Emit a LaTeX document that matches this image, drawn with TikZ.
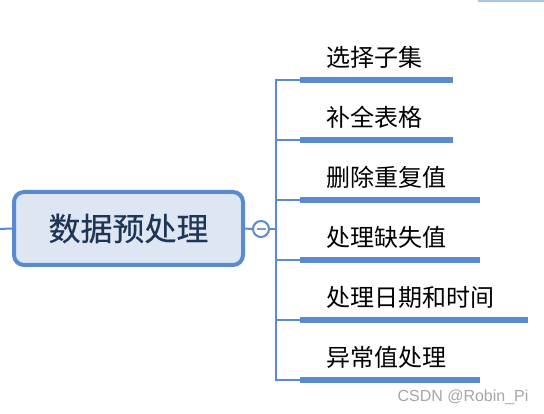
\documentclass[tikz,border=0pt]{standalone}
\usepackage{fontspec}
\newfontfamily\cjk{Noto Sans CJK SC}
\newfontfamily\cjkb[FakeBold=0.3]{Noto Sans CJK SC}
\newfontfamily\wmfont{Liberation Sans}
\definecolor{edgec}{RGB}{91,139,207}
\definecolor{fillc}{RGB}{221,230,242}
\definecolor{navyc}{RGB}{31,53,86}
\definecolor{minusc}{RGB}{138,154,181}
\definecolor{topc}{RGB}{169,196,235}
\begin{document}
\begin{tikzpicture}[x=1pt,y=-1pt,
  mainbox/.style={draw=edgec, line width=4pt, fill=fillc, rounded corners=10pt,
    minimum width=229pt, minimum height=73pt, inner sep=0pt,
    font=\cjkb\fontsize{32}{34}\selectfont, text=navyc},
  foldc/.style={circle, draw=edgec, line width=2pt, fill=white, minimum size=16pt, inner sep=0pt},
  conn/.style={draw=edgec, line width=2pt},
  bar/.style={draw=edgec, line width=6.5pt},
  lbl/.style={anchor=west, inner sep=0pt, font=\cjk\fontsize{24}{26}\selectfont, text=black},
  wm/.style={font=\wmfont\fontsize{16}{18}\selectfont, text=black!35, inner sep=0pt}]
\useasboundingbox (0,0) rectangle (544,414);
\fill[white] (0,0) rectangle (544,414);
% top-right remnant line
\coordinate (t1) at (478,0.8);
\coordinate (t2) at (544,0.8);
\draw[draw=topc, line width=1.6pt] (t1) -- (t2);
% main node
\node[mainbox] (m) at (128.5,228.5) {数据预处理};
\coordinate (lft) at (0,229);
\draw[conn] (lft) -- (m.west);
% fold circle
\node[foldc] (c) at (261,229) {};
\coordinate (mn1) at (256.5,229);
\coordinate (mn2) at (265.5,229);
\draw[draw=minusc, line width=1.8pt] (mn1) -- (mn2);
\draw[conn] (m.east) -- (c.west);
\coordinate (sp) at (276,229);
\draw[conn] (c.east) -- (sp);
% spine
\coordinate (sptop) at (276,79);
\coordinate (spbot) at (276,381);
\draw[conn] (sptop) -- (spbot);
% branches
\foreach \i/\y/\xe/\txt in {1/80/453/选择子集, 2/140/453/补全表格, 3/200/480/删除重复值, 4/260/480/处理缺失值, 5/320/528/处理日期和时间, 6/380/480/异常值处理}{
  \coordinate (s\i) at (276,\y);
  \coordinate (b\i) at (300,\y);
  \coordinate (e\i) at (\xe,\y);
  \draw[conn] (s\i) -- (b\i);
  \draw[bar] (b\i) -- (e\i);
  \node[lbl] (l\i) at (326,\y-23) {\txt};
}
% watermark
\node[wm] (w) at (463,397) {CSDN @Robin\_Pi};
\end{tikzpicture}
\end{document}
